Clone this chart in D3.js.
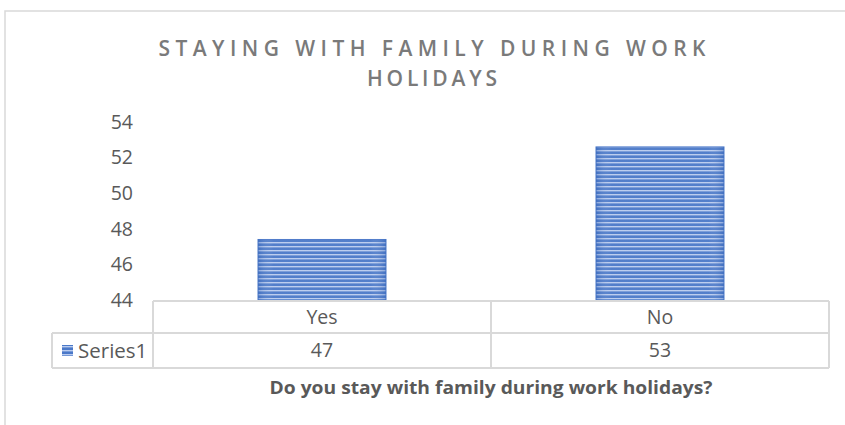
<!DOCTYPE html>
<html>
<head>
<meta charset="utf-8">
<script src="https://cdn.jsdelivr.net/npm/d3@7"></script>
<style>
  html, body { margin: 0; padding: 0; background: #fff; }
  svg { display: block; }
  text { font-family: "Open Sans", "Noto Sans", sans-serif; }
</style>
</head>
<body>
<svg id="chart" width="845" height="425"></svg>
<script>
const titleLines = ["STAYING WITH FAMILY DURING WORK", "HOLIDAYS"];
const titleWidths = [547, 130];
const categories = ["Yes", "No"];
const seriesName = "Series1";
const values = [47.4, 52.6];
const yTicks = [44, 46, 48, 50, 52, 54];
const xTitle = "Do you stay with family during work holidays?";

const svg = d3.select("#chart");
const W = 845, H = 425;
const plot = { left: 153, right: 829, top: 122, bottom: 300 };
const gridColor = "#d9d9d9";
const textColor = "#595959";

// Pattern for striped bars
const defs = svg.append("defs");
const pat = defs.append("pattern")
  .attr("id", "stripes").attr("patternUnits", "userSpaceOnUse")
  .attr("width", 8).attr("height", 4);
pat.append("rect").attr("width", 8).attr("height", 4).attr("fill", "#4a78c8");
pat.append("rect").attr("y", 2).attr("width", 8).attr("height", 1.4).attr("fill", "#b9cbee");
const grad = defs.append("linearGradient").attr("id", "shine").attr("x1", 0).attr("x2", 1).attr("y1", 0).attr("y2", 0);
grad.append("stop").attr("offset", "0%").attr("stop-color", "#2f5fb3").attr("stop-opacity", 0.35);
grad.append("stop").attr("offset", "12%").attr("stop-color", "#ffffff").attr("stop-opacity", 0.05);
grad.append("stop").attr("offset", "88%").attr("stop-color", "#ffffff").attr("stop-opacity", 0.05);
grad.append("stop").attr("offset", "100%").attr("stop-color", "#2f5fb3").attr("stop-opacity", 0.35);

// Outer chart border (top and left visible)
svg.append("path")
  .attr("d", `M5,${H} L5,11 L${W},11`)
  .attr("fill", "none").attr("stroke", gridColor).attr("stroke-width", 1.5);

// Title
const title = svg.append("g");
titleLines.forEach((t, i) => {
  title.append("text")
    .attr("x", 432).attr("y", 56 + i * 30)
    .attr("text-anchor", "middle")
    .attr("font-size", 21).attr("font-weight", 600).attr("fill", "#7a7a7a")
    .attr("textLength", titleWidths[i]).attr("lengthAdjust", "spacing")
    .text(t);
});

// Scales
const x = d3.scaleBand().domain(categories).range([plot.left, plot.right]).paddingInner(0).paddingOuter(0);
const y = d3.scaleLinear().domain([44, 54]).range([plot.bottom, plot.top]);

// Y axis labels
const yAxis = d3.axisLeft(y).tickValues(yTicks).tickSize(0).tickPadding(0).tickFormat(d3.format("d"));
const yg = svg.append("g").attr("transform", "translate(133,0)").call(yAxis);
yg.select(".domain").remove();
yg.selectAll("text").attr("font-size", 19.5).attr("fill", textColor)
  .attr("font-family", '"Open Sans", sans-serif');

// Bars
const barW = 128;
const bars = svg.append("g");
bars.selectAll("rect.bar").data(values).join("rect")
  .attr("class", "bar")
  .attr("x", (d, i) => x(categories[i]) + x.bandwidth() / 2 - barW / 2)
  .attr("y", d => y(d))
  .attr("width", barW)
  .attr("height", d => y(44) - y(d))
  .attr("fill", "url(#stripes)")
  .attr("stroke", "#4a78c8").attr("stroke-width", 1);
bars.selectAll("rect.shine").data(values).join("rect")
  .attr("class", "shine")
  .attr("x", (d, i) => x(categories[i]) + x.bandwidth() / 2 - barW / 2)
  .attr("y", d => y(d))
  .attr("width", barW)
  .attr("height", d => y(44) - y(d))
  .attr("fill", "url(#shine)");

// Data table
const row1 = 301, row2 = 333, row3 = 368, leftCol = 52;
const tbl = svg.append("g").attr("stroke", gridColor).attr("stroke-width", 2).attr("fill", "none");
tbl.append("line").attr("x1", plot.left).attr("x2", plot.right).attr("y1", row1).attr("y2", row1);
tbl.append("line").attr("x1", leftCol).attr("x2", plot.right).attr("y1", row2).attr("y2", row2);
tbl.append("line").attr("x1", leftCol).attr("x2", plot.right).attr("y1", row3).attr("y2", row3);
tbl.append("line").attr("x1", leftCol).attr("x2", leftCol).attr("y1", row2).attr("y2", row3);
[plot.left, ...categories.slice(1).map(c => x(c)), plot.right].forEach(xx => {
  tbl.append("line").attr("x1", xx).attr("x2", xx).attr("y1", row1).attr("y2", row3);
});

const tt = svg.append("g").attr("font-size", 19.5).attr("fill", textColor).attr("text-anchor", "middle");
categories.forEach((c, i) => {
  tt.append("text").attr("x", x(c) + x.bandwidth() / 2).attr("y", (row1 + row2) / 2).attr("dy", "0.35em").text(c);
  tt.append("text").attr("x", x(c) + x.bandwidth() / 2).attr("y", (row2 + row3) / 2).attr("dy", "0.35em")
    .text(d3.format(".0f")(values[i]));
});
// Legend key
svg.append("rect").attr("x", 62).attr("y", 345).attr("width", 11).attr("height", 11).attr("fill", "url(#stripes)");
svg.append("text").attr("x", 78).attr("y", (row2 + row3) / 2).attr("dy", "0.35em")
  .attr("font-size", 20.5).attr("fill", textColor).text(seriesName);

// X axis title
svg.append("text").attr("x", 491).attr("y", 394)
  .attr("text-anchor", "middle").attr("font-size", 18.5).attr("font-weight", "bold")
  .attr("textLength", 443).attr("lengthAdjust", "spacingAndGlyphs")
  .attr("fill", textColor).text(xTitle);
</script>
</body>
</html>
